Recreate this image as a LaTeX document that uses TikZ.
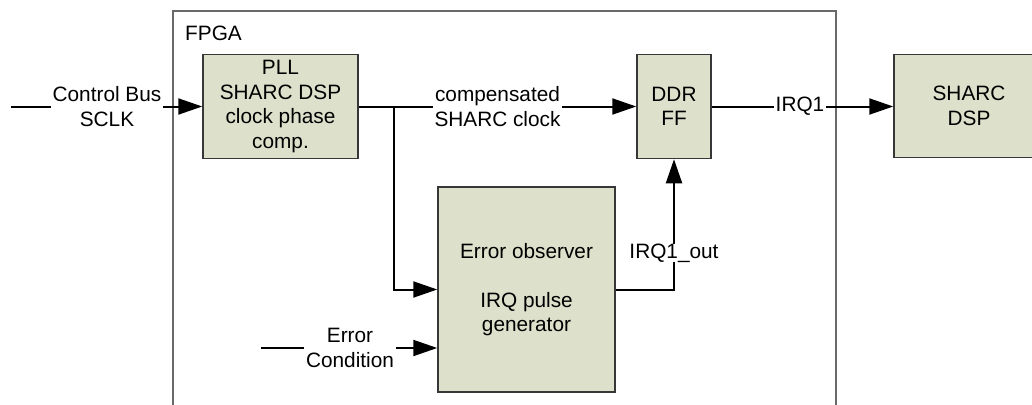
\documentclass[tikz,border=0pt]{standalone}
\usepackage{fontspec}
\setmainfont{Liberation Sans}
\usetikzlibrary{arrows.meta}
\definecolor{boxfill}{RGB}{221,225,203}
\definecolor{boxline}{RGB}{55,55,55}
\definecolor{fpgaline}{RGB}{105,105,105}
\begin{document}
\begin{tikzpicture}[x=1pt,y=-1pt,
  every node/.style={font=\fontsize{20.8pt}{24.4pt}\selectfont, align=center},
  blk/.style={draw=boxline, fill=boxfill, line width=1.5pt, inner sep=0pt},
  conn/.style={line width=2pt, -{Triangle[length=24pt,width=16pt]}},
  lbl/.style={fill=white, inner xsep=2pt, inner ysep=0pt}]
\clip (0,0) rectangle (1032,404);
\fill[white] (0,0) rectangle (1032,404);
% FPGA container
\node[draw=fpgaline, line width=1.5pt, minimum width=663pt, minimum height=420pt, inner sep=0pt] (fpga) at (504.5,221) {};
\node[anchor=west, inner sep=0pt] (fpgalbl) at (185,33) {FPGA};
% blocks
\node[blk, minimum width=155pt, minimum height=104pt] (pll) at (280.5,106.5) {PLL\\SHARC DSP\\clock phase\\comp.};
\node[blk, minimum width=74pt, minimum height=104pt] (ddr) at (674,106.5) {DDR\\FF};
\node[blk, minimum width=150pt, minimum height=103pt] (dsp) at (969,106) {SHARC\\DSP};
\node[blk, minimum width=177pt, minimum height=205pt] (err) at (526.5,289.5) {Error observer\\[24.4pt]IRQ pulse\\generator};
% connectors
\coordinate (cbin) at (11,106.5);
\draw[conn] (cbin) -- (cbin -| pll.west);
\node[lbl] (cbl) at (107,106.5) {Control Bus\\SCLK};
\draw[conn] (pll.east) -- (ddr.west);
\node[lbl] (csl) at (497.5,106.5) {compensated\\SHARC clock};
\draw[conn] (ddr.east) -- (ddr.east -| dsp.west);
\node[lbl] (irq) at (800,106.5) {IRQ1};
\coordinate (j) at (394,106.5);
\draw[conn] (j) |- (err.west);
\coordinate (ecin) at (261,348);
\draw[conn] (ecin) -- (ecin -| err.west);
\node[lbl] (ecl) at (350,348) {Error\\Condition};
\draw[conn] (err.east) -| (ddr.south);
\node[lbl] (irqo) at (674,253) {IRQ1\_out};
\end{tikzpicture}
\end{document}
